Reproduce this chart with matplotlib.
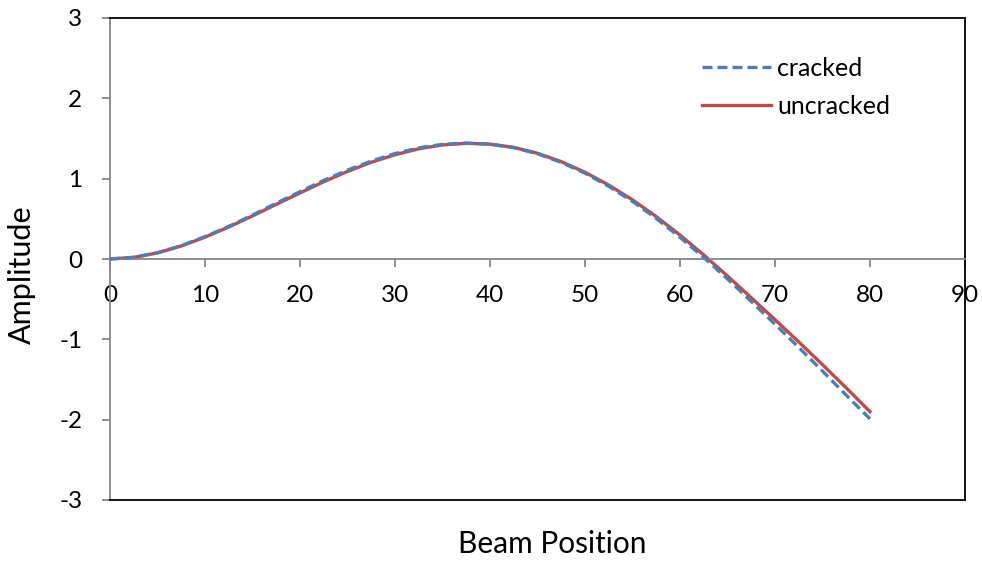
import matplotlib
matplotlib.use("Agg")
import matplotlib.pyplot as plt

# ---- data ----
beam_position = [0, 2.5, 5, 7.5, 10, 12.5, 15, 17.5, 20, 22.5, 25, 27.5, 30, 32.5, 35,
                 37.5, 40, 42.5, 45, 47.5, 50, 52.5, 55, 57.5, 60, 62.5, 65, 67.5, 70,
                 72.5, 75, 77.5, 80]
cracked = [0.0, 0.021, 0.078, 0.166, 0.278, 0.406, 0.547, 0.694, 0.838, 0.978, 1.106,
           1.219, 1.312, 1.383, 1.427, 1.443, 1.430, 1.386, 1.310, 1.203, 1.068, 0.905,
           0.717, 0.505, 0.270, 0.020, -0.248, -0.528, -0.812, -1.100, -1.395, -1.695,
           -1.990]
uncracked = [0.0, 0.020, 0.076, 0.162, 0.272, 0.398, 0.536, 0.680, 0.822, 0.962, 1.090,
             1.204, 1.298, 1.372, 1.420, 1.440, 1.430, 1.389, 1.316, 1.212, 1.080, 0.920,
             0.736, 0.528, 0.298, 0.050, -0.212, -0.482, -0.755, -1.032, -1.315, -1.605,
             -1.900]
y_ticks = [-3, -2, -1, 0, 1, 2, 3]
x_ticks = [0, 10, 20, 30, 40, 50, 60, 70, 80, 90]

plt.rcParams['font.family'] = ['Lato', 'DejaVu Sans']

fig = plt.figure(figsize=(9.82, 5.61), dpi=100)
ax = fig.add_axes([110/982, 61/561, 855/982, 482/561])

gray = '#868686'
ax.plot(beam_position, cracked, color='#4A7EBB', lw=2.4, dashes=(3, 1.5), label='cracked', zorder=3)
ax.plot(beam_position, uncracked, color='#BE4B48', lw=2.4, label='uncracked', zorder=2)

ax.set_xlim(0, 90)
ax.set_ylim(-3, 3)
ax.set_xticks(x_ticks)
ax.set_yticks(y_ticks)
ax.set_yticklabels([str(v) for v in y_ticks])
ax.set_xticklabels([str(v) for v in x_ticks])

ax.spines['bottom'].set_position(('data', 0))
ax.spines['bottom'].set_color(gray)
ax.spines['bottom'].set_linewidth(1.3)
ax.spines['left'].set_color(gray)
ax.spines['left'].set_linewidth(1.3)
for s in ('top', 'right'):
    ax.spines[s].set_color('black')
    ax.spines[s].set_linewidth(1.3)
ax.axhline(-3, color='black', lw=1.3, clip_on=False, zorder=4)

ax.tick_params(axis='x', direction='out', length=6, width=1.3, color=gray,
               labelsize=17.5, pad=13)
ax.tick_params(axis='y', direction='out', length=6, width=1.3, color=gray,
               labelsize=17.5, pad=14)

fig.text(22/982, 1 - 275/561, 'Amplitude', rotation=90, fontsize=22,
         ha='center', va='center')
fig.text(552/982, 1 - 544/561, 'Beam Position', fontsize=21.5,
         ha='center', va='center')

leg = ax.legend(loc='upper left', bbox_to_anchor=(582/855, (500 - 47)/482),
                frameon=False, fontsize=18, handlelength=2.75, handletextpad=0.25,
                labelspacing=0.6, borderaxespad=0)

fig.savefig('out.png', dpi=100)
